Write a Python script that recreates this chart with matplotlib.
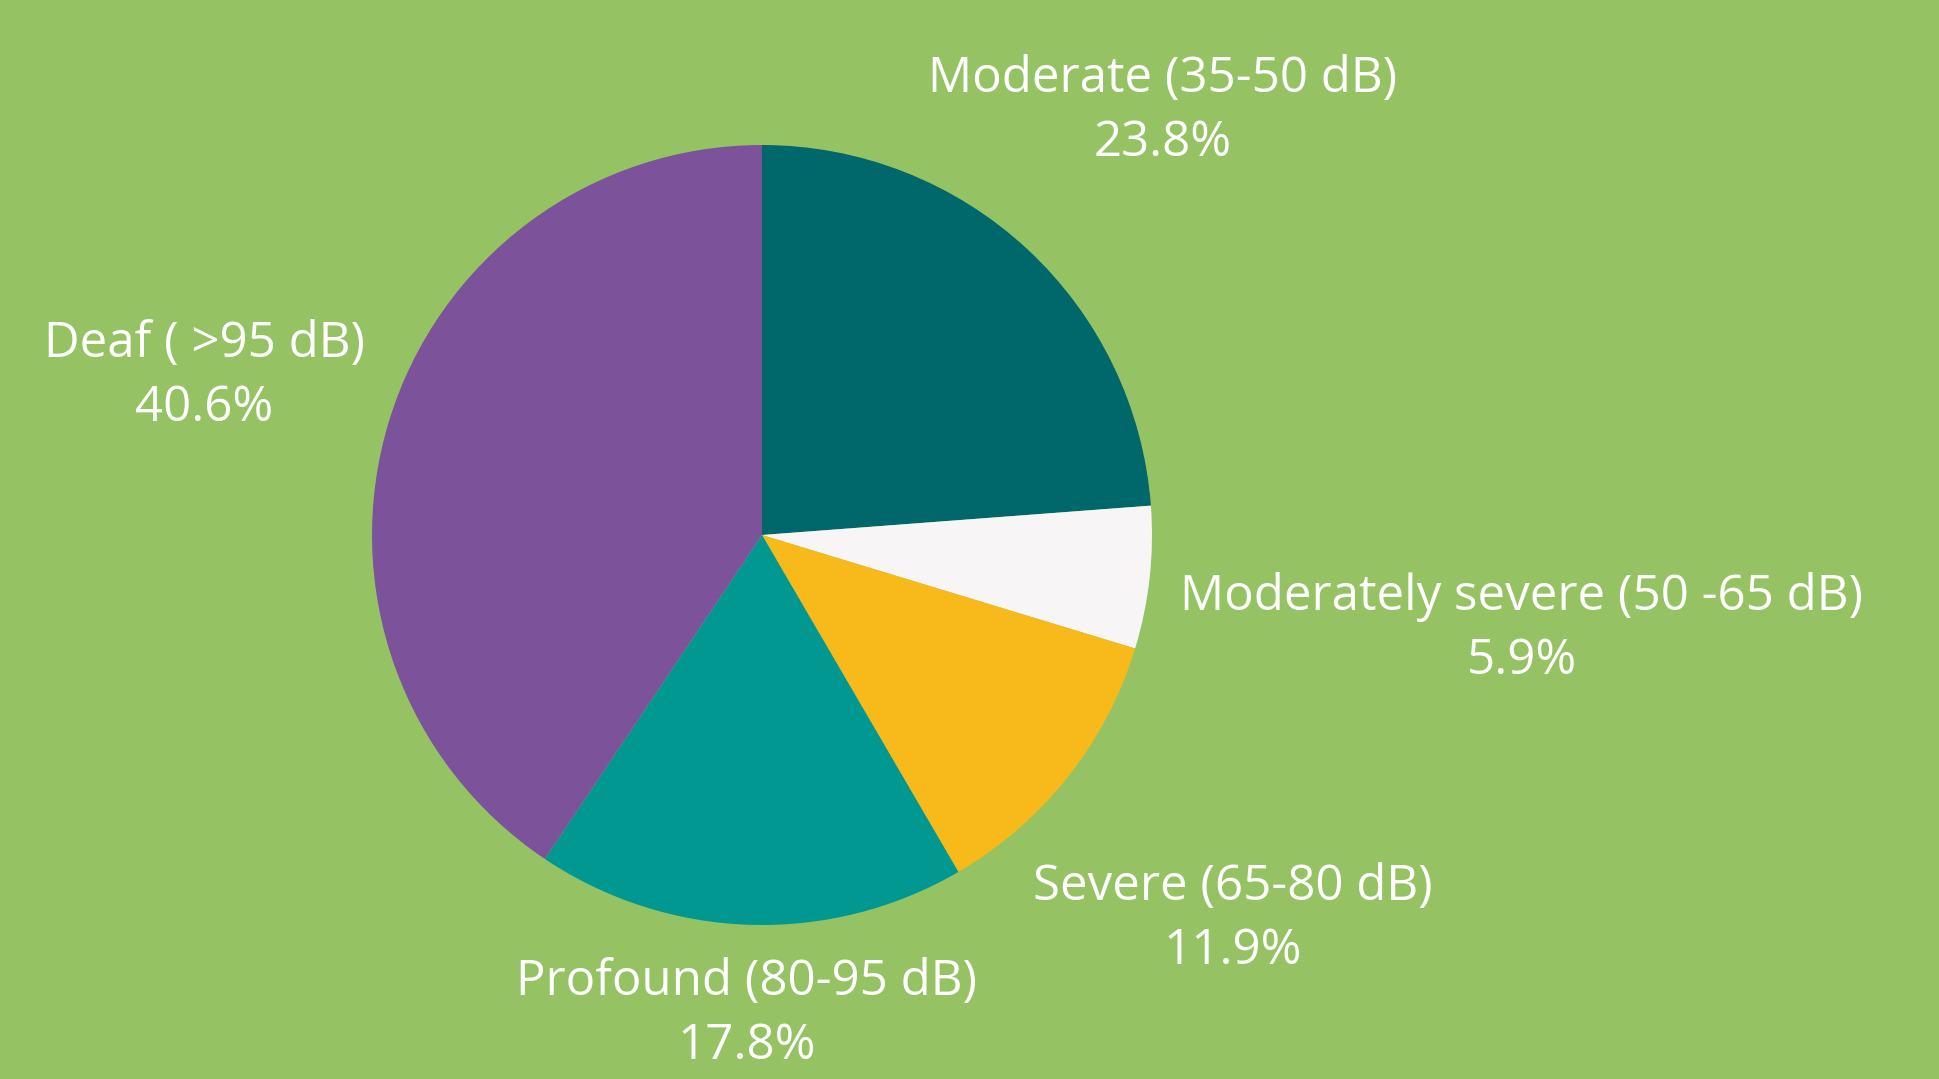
import matplotlib
matplotlib.use("Agg")
import matplotlib.pyplot as plt

# Hearing loss categories, clockwise from 12 o'clock
labels = ["Moderate (35-50 dB)", "Moderately severe (50 -65 dB)", "Severe (65-80 dB)",
          "Profound (80-95 dB)", "Deaf ( >95 dB)"]
shares = [23.8, 5.9, 11.9, 17.8, 40.6]
colors = ["#00676b", "#f7f5f5", "#f8ba1a", "#009890", "#7c539b"]
bg = "#95c363"

W, H = 1939, 1079
fig = plt.figure(figsize=(W / 100, H / 100), dpi=100, facecolor=bg)
ax = fig.add_axes([0, 0, 1, 1])
ax.set_facecolor(bg)

ax.pie(shares, colors=colors, startangle=90, counterclock=False,
       center=(762, H - 535), radius=390, frame=True,
       wedgeprops=dict(linewidth=0))
ax.set_xlim(0, W)
ax.set_ylim(0, H)
ax.set_aspect("equal")
ax.axis("off")

# label anchor points (pixel coords from top-left)
label_pos = [(1163, 79), (1522, 597), (1233, 887), (747, 982), (204, 344)]
for lab, val, (x, y) in zip(labels, shares, label_pos):
    ax.text(x, H - y, lab, ha="center", va="center", color="white",
            fontsize=35.5, family="Open Sans")
    ax.text(x, H - y - 64, f"{val}%", ha="center", va="center", color="white",
            fontsize=35.5, family="Open Sans")

fig.savefig("out.png", dpi=100, facecolor=bg)
